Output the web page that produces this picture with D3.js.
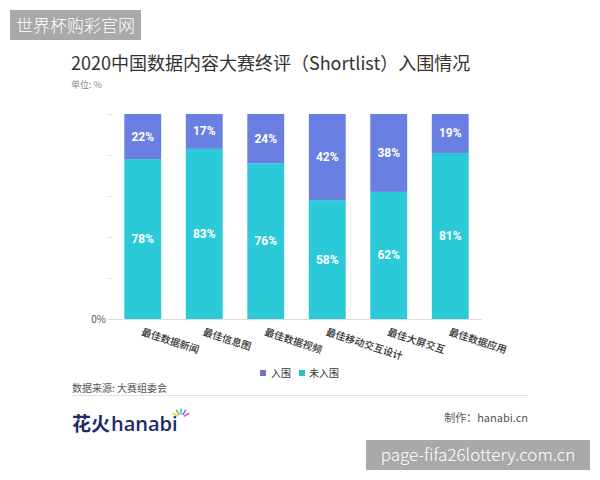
<!DOCTYPE html>
<html>
<head>
<meta charset="utf-8">
<script src="https://cdn.jsdelivr.net/npm/d3@7"></script>
<style>
  html, body { margin: 0; padding: 0; background: #fff; }
  svg { display: block; }
  text { font-family: "Noto Sans CJK SC", "Noto Sans", sans-serif; }
</style>
</head>
<body>
<svg id="chart" width="600" height="480"></svg>
<script>
const categories = ["最佳数据新闻", "最佳信息图", "最佳数据视频", "最佳移动交互设计", "最佳大屏交互", "最佳数据应用"];
const shortlisted = [22, 17, 24, 42, 38, 19];      // 入围
const notShortlisted = [78, 83, 76, 58, 62, 81];   // 未入围
const seriesNames = ["入围", "未入围"];
const yTicks = [0, 20, 40, 60, 80, 100];

const colors = { "入围": "#6a7fe2", "未入围": "#2ccad8" };

const svg = d3.select("#chart");

// watermark box top-left
svg.append("rect").attr("x", 10).attr("y", 10).attr("width", 131).attr("height", 30).attr("fill", "#a9a9a9");
svg.append("text").attr("x", 75.5).attr("y", 31.5).attr("text-anchor", "middle")
  .attr("fill", "#fff").attr("font-size", 17).attr("font-weight", 300).text("世界杯购彩官网");

// title
svg.append("text").attr("x", 71).attr("y", 70).attr("fill", "#333").attr("font-size", 18).attr("font-weight", 400)
  .text("2020中国数据内容大赛终评（Shortlist）入围情况");
svg.append("text").attr("x", 71).attr("y", 88).attr("fill", "#888").attr("font-size", 9)
  .text("单位: %");

// scales
const x = d3.scaleBand().domain(categories).range([112, 481]).paddingInner(0.4).paddingOuter(0.2);
const y = d3.scaleLinear().domain([0, 100]).range([319, 114]);

// y ticks (marks only) + 0% label
const yAxis = svg.append("g").attr("transform", "translate(112,0)")
  .call(d3.axisLeft(y).tickValues(yTicks).tickSize(5).tickFormat(d => d === 0 ? "0%" : ""));
yAxis.select(".domain").remove();
yAxis.selectAll(".tick line").attr("stroke", "#e3e3e3");
yAxis.selectAll(".tick text").attr("fill", "#555").attr("font-size", 10).attr("x", -6)
  .style("font-family", "'Noto Sans CJK SC', sans-serif");

// data rows
const rows = categories.map((c, i) => ({ cat: c, "入围": shortlisted[i], "未入围": notShortlisted[i] }));
const stack = d3.stack().keys(["未入围", "入围"]);
const layers = stack(rows);

const g = svg.append("g");
layers.forEach(layer => {
  g.selectAll(null).data(layer).enter().append("rect")
    .attr("x", d => x(d.data.cat))
    .attr("width", x.bandwidth())
    .attr("y", d => y(d[1]))
    .attr("height", d => y(d[0]) - y(d[1]))
    .attr("fill", colors[layer.key]);
  g.selectAll(null).data(layer).enter().append("text")
    .attr("x", d => x(d.data.cat) + x.bandwidth() / 2)
    .attr("y", d => (y(d[0]) + y(d[1])) / 2 + 4)
    .attr("text-anchor", "middle")
    .attr("fill", "#fff")
    .attr("font-size", 12)
    .attr("font-weight", "bold")
    .style("font-family", "Roboto, 'DejaVu Sans', sans-serif")
    .text(d => (d[1] - d[0]) + "%");
});

// x axis
const xAxis = svg.append("g").attr("transform", "translate(0,319)")
  .call(d3.axisBottom(x).tickSize(0).tickFormat(d => d));
xAxis.select(".domain").attr("stroke", "#dcdcdc").attr("d", "M110,0.5H482");
xAxis.selectAll(".tick text")
  .attr("text-anchor", "start")
  .attr("fill", "#333")
  .attr("font-size", 10)
  .attr("font-weight", 500)
  .attr("x", 0).attr("y", 0).attr("dy", 0)
  .attr("transform", "translate(-2,16) rotate(18)")
  .style("font-family", "'Noto Sans CJK SC', sans-serif");

// legend
const legend = svg.append("g");
const legendPos = [{ sx: 260, tx: 271 }, { sx: 299, tx: 309 }];
seriesNames.forEach((name, i) => {
  legend.append("rect").attr("x", legendPos[i].sx).attr("y", 370).attr("width", 6).attr("height", 6)
    .attr("fill", i === 0 ? "#6e74c4" : "#29bfc7");
  legend.append("text").attr("x", legendPos[i].tx).attr("y", 377).attr("font-size", 10).attr("fill", "#333")
    .text(name);
});

// source
svg.append("text").attr("x", 72).attr("y", 392).attr("font-size", 10).attr("fill", "#555")
  .text("数据来源: 大赛组委会");
svg.append("line").attr("x1", 72).attr("x2", 528).attr("y1", 395.5).attr("y2", 395.5)
  .attr("stroke", "#e2e2e2").attr("stroke-width", 1);

// logo
svg.append("text").attr("x", 72).attr("y", 431).attr("font-size", 19).attr("font-weight", "bold")
  .attr("fill", "#1c2a6b").text("花火");
svg.append("text").attr("x", 111).attr("y", 431).attr("font-size", 20).attr("font-weight", 600)
  .attr("fill", "#1c2a6b").style("font-family", "'Open Sans', sans-serif").text("hanabi");
const sparkColors = ["#f2c94c", "#7ac143", "#36b8d9", "#7b61ff", "#e85d9a"];
sparkColors.forEach((c, i) => {
  const a = (-150 + i * 30) * Math.PI / 180;
  svg.append("line")
    .attr("x1", 181 + Math.cos(a) * 4).attr("y1", 418 + Math.sin(a) * 4)
    .attr("x2", 181 + Math.cos(a) * 9).attr("y2", 418 + Math.sin(a) * 9)
    .attr("stroke", c).attr("stroke-width", 1.5).attr("stroke-linecap", "round");
});

svg.append("text").attr("x", 528).attr("y", 422).attr("text-anchor", "end").attr("font-size", 11)
  .attr("fill", "#555").text("制作：hanabi.cn");

// watermark box bottom-right
svg.append("rect").attr("x", 366).attr("y", 440).attr("width", 224).attr("height", 30).attr("fill", "#a9a9a9");
svg.append("text").attr("x", 478).attr("y", 461).attr("text-anchor", "middle")
  .attr("fill", "#fff").attr("font-size", 17).attr("font-weight", 300).text("page-fifa26lottery.com.cn");
</script>
</body>
</html>
